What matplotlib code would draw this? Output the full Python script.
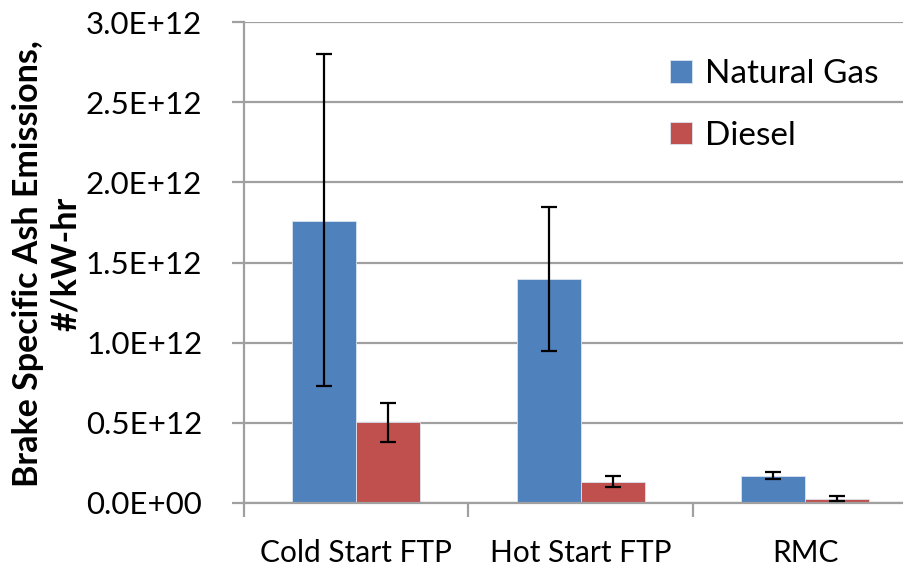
import matplotlib

matplotlib.use("Agg")
import matplotlib.pyplot as plt
import numpy as np

plt.rcParams["font.family"] = ["Lato", "DejaVu Sans"]

# --- data -------------------------------------------------------------------
categories = ["Cold Start FTP", "Hot Start FTP", "RMC"]
series = ["Natural Gas", "Diesel"]
natural_gas = [1.76e12, 1.395e12, 0.170e12]
natural_gas_lo = [0.73e12, 0.948e12, 0.150e12]
natural_gas_hi = [2.80e12, 1.847e12, 0.192e12]
diesel = [0.503e12, 0.133e12, 0.028e12]
diesel_lo = [0.382e12, 0.102e12, 0.012e12]
diesel_hi = [0.624e12, 0.167e12, 0.046e12]
y_ticks = [0.0, 0.5e12, 1.0e12, 1.5e12, 2.0e12, 2.5e12, 3.0e12]

BLUE = "#4F81BD"
RED = "#C0504D"
GRID = "#a0a0a0"

fig = plt.figure(figsize=(9.04, 5.69), dpi=100)
ax = fig.add_axes([244 / 904, 66 / 569, 673.5 / 904, 481 / 569])

x = np.arange(len(categories))
w = 0.285
for vals, lo, hi, color, off, name in [
    (natural_gas, natural_gas_lo, natural_gas_hi, BLUE, -w / 2, series[0]),
    (diesel, diesel_lo, diesel_hi, RED, w / 2, series[1]),
]:
    vals = np.array(vals)
    err = [vals - np.array(lo), np.array(hi) - vals]
    ax.bar(x + off, vals, width=w, color=color, edgecolor="#dbe4f0",
           linewidth=0.6, label=name, zorder=2)
    ax.errorbar(x + off, vals, yerr=err, fmt="none", ecolor="black",
                elinewidth=1.6, capsize=6, capthick=1.6, zorder=3)

ax.set_xlim(-0.5, 2.5)
ax.set_ylim(0, 3.0e12)
ax.set_yticks(y_ticks)
ax.set_yticklabels([f"{v / 1e12:.1f}E+{12 if v else 0:02d}" for v in y_ticks])
ax.yaxis.grid(True, color=GRID, linewidth=1.6, zorder=0)
ax.set_axisbelow(True)

ax.set_xticks(x)
ax.set_xticklabels(categories)
ax.set_xticks([-0.5, 0.5, 1.5, 2.5], minor=True)
ax.tick_params(axis="x", which="major", length=0, pad=26, labelsize=21.5)
ax.tick_params(axis="x", which="minor", length=10, width=1.6, color=GRID)
ax.tick_params(axis="y", length=9, width=1.6, color=GRID, pad=21, labelsize=22.5)

for s in ["top", "right"]:
    ax.spines[s].set_visible(False)
for s in ["left", "bottom"]:
    ax.spines[s].set_color(GRID)
    ax.spines[s].set_linewidth(1.6)

fig.text(47 / 904, 1 - 264 / 569, "Brake Specific Ash Emissions,\n#/kW-hr",
         rotation=90, ha="center", va="center", fontsize=24.5,
         fontweight="bold", linespacing=1.25)

ax.legend(loc="upper left", bbox_to_anchor=((640 - 244) / 673.5, 0.985),
          frameon=False, fontsize=24, handlelength=0.65, handleheight=0.65,
          handletextpad=0.4, labelspacing=0.95)

fig.savefig("out.png", dpi=100)
